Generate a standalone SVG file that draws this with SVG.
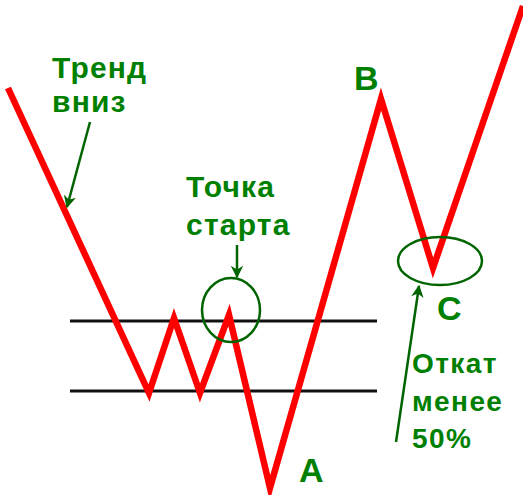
<svg xmlns="http://www.w3.org/2000/svg" width="523" height="495" viewBox="0 0 523 495">
<style>
.lbl{font-family:"Liberation Sans",Arial,sans-serif;font-weight:bold;fill:#008000}
.t{font-size:30px;letter-spacing:1.2px}
.s{font-size:28px;letter-spacing:1.4px}
.big{font-size:34px}
.lvl{stroke:#111;stroke-width:3;fill:none}
.price{stroke:#ff0000;stroke-width:6.5;fill:none;stroke-linejoin:miter;stroke-miterlimit:10}
.mark{stroke:#006400;stroke-width:2.5;fill:none}
.arr{stroke:#006400;stroke-width:2.5;fill:none;marker-end:url(#ah)}
</style>
<defs>
<marker id="ah" viewBox="0 0 10 10" refX="9" refY="5" markerWidth="5" markerHeight="5" orient="auto" markerUnits="strokeWidth">
<path d="M0,0 L10,5 L0,10 L3,5 Z" fill="#006400"/>
</marker>
</defs>
<rect width="523" height="495" fill="#ffffff"/>
<g id="levels">
<line class="lvl" x1="70" y1="321" x2="377" y2="321"/>
<line class="lvl" x1="70" y1="391" x2="377" y2="391"/>
</g>
<g id="price">
<polyline class="price" points="8,88 149,393 174,318 200,393 229,315 270,488 381,99 433,268 523,6"/>
</g>
<g id="start-circle">
<ellipse class="mark" cx="231" cy="310" rx="29" ry="32"/>
</g>
<g id="c-ellipse">
<ellipse class="mark" cx="440" cy="261" rx="42" ry="24"/>
</g>
<g id="connectors">
<line class="arr" x1="90" y1="122" x2="67" y2="207"/>
<line class="arr" x1="237" y1="245" x2="237" y2="277"/>
<line class="arr" x1="396" y1="442" x2="419" y2="286"/>
</g>
<g id="trend-label">
<text class="lbl t" x="52" y="78">Тренд</text>
<text class="lbl t" x="52" y="112">вниз</text>
</g>
<g id="start-label">
<text class="lbl t" x="186" y="197">Точка</text>
<text class="lbl t" x="186" y="235">старта</text>
</g>
<g id="pullback-label">
<text class="lbl s" x="412" y="373">Откат</text>
<text class="lbl s" x="412" y="411">менее</text>
<text class="lbl s" x="412" y="448">50%</text>
</g>
<g id="A"><text class="lbl big" x="299" y="482">A</text></g>
<g id="B"><text class="lbl big" x="354" y="90">B</text></g>
<g id="C"><text class="lbl big" x="437" y="320">C</text></g>
</svg>
